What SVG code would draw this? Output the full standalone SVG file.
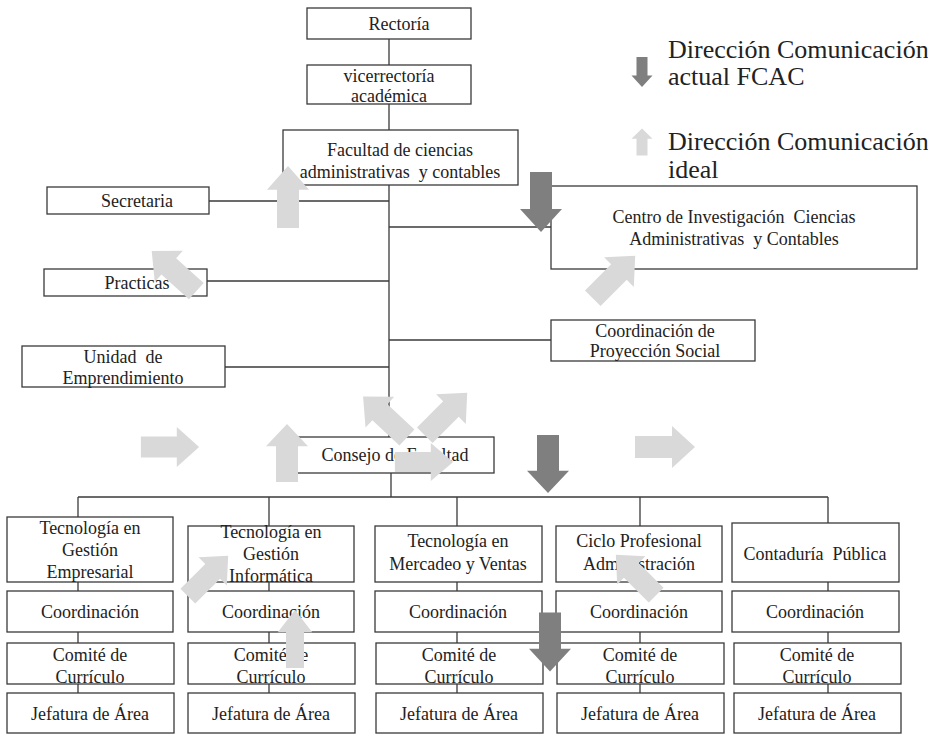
<svg xmlns="http://www.w3.org/2000/svg" xmlns:xlink="http://www.w3.org/1999/xlink" width="928" height="734" viewBox="0 0 928 734" font-family="'Liberation Serif', 'DejaVu Serif', serif">
<style>
.box{fill:#fff;stroke:#3a3a3a;stroke-width:1.3}
.ln{stroke:#3a3a3a;stroke-width:1.3;fill:none}
text{font-family:'Liberation Serif','DejaVu Serif',serif;font-size:18px;fill:#222;text-anchor:middle}
.lg{font-size:26px;text-anchor:start}
.lt{fill:#d9d9d9}
.dk{fill:#7f7f7f}
</style>
<defs>
<path id="arr" d="M0,-30 L21,-7 L11,-7 L11,30 L-11,30 L-11,-7 L-21,-7 Z"/>
</defs>
<rect width="928" height="734" fill="#fff"/>
<g id="connectors">
<line class="ln" x1="389" y1="39" x2="389" y2="65"/>
<line class="ln" x1="389" y1="104" x2="389" y2="130"/>
<line class="ln" x1="389" y1="185" x2="389" y2="437"/>
<line class="ln" x1="209" y1="201" x2="389" y2="201"/>
<line class="ln" x1="389" y1="227" x2="551" y2="227"/>
<line class="ln" x1="207" y1="281" x2="389" y2="281"/>
<line class="ln" x1="389" y1="340" x2="551" y2="340"/>
<line class="ln" x1="225" y1="367" x2="389" y2="367"/>
<line class="ln" x1="391" y1="473" x2="391" y2="497"/>
<line class="ln" x1="78" y1="497" x2="828" y2="497"/>
<line class="ln" x1="78" y1="497" x2="78" y2="517"/>
<line class="ln" x1="269" y1="497" x2="269" y2="526"/>
<line class="ln" x1="457" y1="497" x2="457" y2="526"/>
<line class="ln" x1="640" y1="497" x2="640" y2="526"/>
<line class="ln" x1="828" y1="497" x2="828" y2="523"/>
<line class="ln" x1="78" y1="582" x2="78" y2="693"/>
<line class="ln" x1="269" y1="582" x2="269" y2="693"/>
<line class="ln" x1="457" y1="582" x2="457" y2="693"/>
<line class="ln" x1="640" y1="582" x2="640" y2="693"/>
<line class="ln" x1="828" y1="582" x2="828" y2="693"/>
</g>
<g id="rectoria"><rect class="box" x="307" y="8" width="164" height="31"/><text x="399" y="30">Rectoría</text></g>
<g id="vicerrectoria"><rect class="box" x="307" y="65" width="164" height="39"/><text x="389" y="82">vicerrectoría</text><text x="389" y="102">académica</text></g>
<g id="facultad"><rect class="box" x="283" y="130" width="235" height="55"/><text x="400" y="156">Facultad de ciencias</text><text x="400" y="178" xml:space="preserve">administrativas  y contables</text></g>
<g id="secretaria"><rect class="box" x="47" y="187" width="162" height="27"/><text x="137" y="207">Secretaria</text></g>
<g id="practicas"><rect class="box" x="44" y="269" width="163" height="27"/><text x="137" y="289">Practicas</text></g>
<g id="unidad"><rect class="box" x="22" y="346" width="203" height="41"/><text x="123" y="363" xml:space="preserve">Unidad  de</text><text x="123" y="384">Emprendimiento</text></g>
<g id="centro"><rect class="box" x="551" y="186" width="366" height="83"/><text x="734" y="223" xml:space="preserve">Centro de Investigación  Ciencias</text><text x="734" y="245" xml:space="preserve">Administrativas  y Contables</text></g>
<g id="proyeccion"><rect class="box" x="551" y="320" width="204" height="41"/><text x="655" y="337">Coordinación de</text><text x="655" y="357">Proyección Social</text></g>
<g id="consejo"><rect class="box" x="296" y="437" width="198" height="36"/><text x="395" y="461">Consejo de Facultad</text></g>

<g id="col1">
<rect class="box" x="7" y="517" width="166" height="65"/><text x="90" y="534">Tecnología en</text><text x="90" y="556">Gestión</text><text x="90" y="578">Empresarial</text>
<rect class="box" x="7" y="591" width="166" height="41"/><text x="90" y="618">Coordinación</text>
<rect class="box" x="7" y="643" width="167" height="41"/><text x="90" y="661">Comité de</text><text x="90" y="683">Currículo</text>
<rect class="box" x="7" y="693" width="167" height="40"/><text x="90" y="720">Jefatura de Área</text>
</g>
<g id="col2">
<rect class="box" x="188" y="526" width="166" height="56"/><text x="271" y="538">Tecnología en</text><text x="271" y="560">Gestión</text><text x="271" y="582">Informática</text>
<rect class="box" x="188" y="591" width="166" height="41"/><text x="271" y="618">Coordinación</text>
<rect class="box" x="188" y="643" width="167" height="41"/><text x="271" y="661">Comité de</text><text x="271" y="683">Currículo</text>
<rect class="box" x="188" y="693" width="167" height="40"/><text x="271" y="720">Jefatura de Área</text>
</g>
<g id="col3">
<rect class="box" x="375" y="526" width="167" height="56"/><text x="458" y="547">Tecnología en</text><text x="458" y="570">Mercadeo y Ventas</text>
<rect class="box" x="375" y="591" width="167" height="41"/><text x="458" y="618">Coordinación</text>
<rect class="box" x="376" y="643" width="167" height="41"/><text x="459" y="661">Comité de</text><text x="459" y="683">Currículo</text>
<rect class="box" x="376" y="693" width="167" height="40"/><text x="459" y="720">Jefatura de Área</text>
</g>
<g id="col4">
<rect class="box" x="556" y="526" width="166" height="56"/><text x="639" y="547">Ciclo Profesional</text><text x="639" y="570">Administración</text>
<rect class="box" x="556" y="591" width="166" height="41"/><text x="639" y="618">Coordinación</text>
<rect class="box" x="557" y="643" width="167" height="41"/><text x="640" y="661">Comité de</text><text x="640" y="683">Currículo</text>
<rect class="box" x="557" y="693" width="167" height="40"/><text x="640" y="720">Jefatura de Área</text>
</g>
<g id="col5">
<rect class="box" x="732" y="523" width="167" height="59"/><text x="815" y="560" xml:space="preserve">Contaduría  Pública</text>
<rect class="box" x="732" y="591" width="167" height="41"/><text x="815" y="618">Coordinación</text>
<rect class="box" x="734" y="643" width="167" height="41"/><text x="817" y="661">Comité de</text><text x="817" y="683">Currículo</text>
<rect class="box" x="734" y="693" width="167" height="40"/><text x="817" y="720">Jefatura de Área</text>
</g>

<g id="legend">
<use href="#arr" class="dk" transform="translate(642,72) rotate(180) scale(0.5)"/>
<text class="lg" x="668" y="58">Dirección Comunicación</text>
<text class="lg" x="668" y="85">actual FCAC</text>
<use href="#arr" class="lt" transform="translate(642,142) scale(0.5,0.45)"/>
<text class="lg" x="668" y="150">Dirección Comunicación</text>
<text class="lg" x="668" y="178">ideal</text>
</g>

<g id="arrows">
<use href="#arr" class="lt" transform="translate(288,197) scale(1,1.03)"/>
<use href="#arr" class="lt" transform="translate(174,271) rotate(-48)"/>
<use href="#arr" class="lt" transform="translate(614,277) rotate(45)"/>
<use href="#arr" class="lt" transform="translate(170,447) rotate(90) scale(0.95,0.97)"/>
<use href="#arr" class="lt" transform="translate(287,453) scale(1,0.97)"/>
<use href="#arr" class="lt" transform="translate(385,417) rotate(-47)"/>
<use href="#arr" class="lt" transform="translate(446,414) rotate(45)"/>
<use href="#arr" class="lt" transform="translate(424,462) rotate(90) scale(0.9,0.97)"/>
<use href="#arr" class="lt" transform="translate(665,447) rotate(90) scale(1,1)"/>
<use href="#arr" class="lt" transform="translate(208,576) rotate(45) scale(0.95,0.95)"/>
<use href="#arr" class="lt" transform="translate(295,639) scale(0.82,0.97)"/>
<use href="#arr" class="lt" transform="translate(636,575) rotate(-45) scale(0.95,0.95)"/>
<use href="#arr" class="dk" transform="translate(541,202) rotate(180)"/>
<use href="#arr" class="dk" transform="translate(548,464) rotate(180) scale(1,0.97)"/>
<use href="#arr" class="dk" transform="translate(550,642) rotate(180) scale(1,0.98)"/>
</g>
</svg>
